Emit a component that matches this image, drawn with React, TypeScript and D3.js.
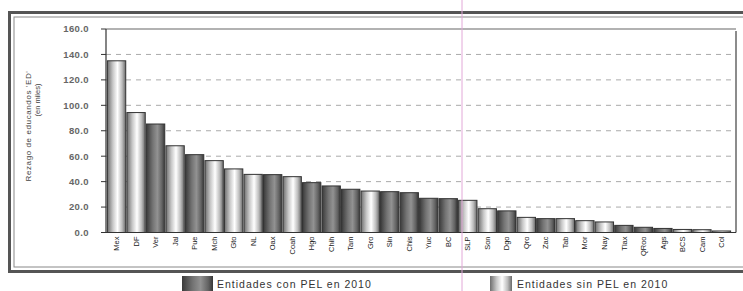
import React from "react";
import { scaleBand, scaleLinear, range } from "d3";

const width = 743;
const height = 291;

// states, left to right
const states = [
  "Mex", "DF", "Ver", "Jal", "Pue", "Mch", "Gto", "NL", "Oax", "Coah", "Hgo",
  "Chih", "Tam", "Gro", "Sin", "Chis", "Yuc", "BC", "SLP", "Son", "Dgo", "Qro",
  "Zac", "Tab", "Mor", "Nay", "Tlax", "QRoo", "Ags", "BCS", "Cam", "Col",
];

// rezago (en miles)
const values = [
  135.0, 94.3, 85.3, 68.2, 61.2, 56.5, 50.0, 45.7, 45.5, 43.9, 39.2,
  36.6, 34.0, 32.6, 32.1, 31.3, 26.9, 26.6, 25.3, 18.7, 17.0, 11.9,
  10.9, 10.9, 9.3, 8.3, 5.6, 4.1, 3.2, 2.4, 2.2, 1.2,
];

// true = con PEL en 2010 (dark), false = sin PEL (light)
const conPel = [
  false, false, true, false, true, false, false, false, true, false, true,
  true, true, false, true, true, true, true, false, false, true, false,
  true, false, false, false, true, true, true, false, false, false,
];

const yTicks = [0, 20, 40, 60, 80, 100, 120, 140, 160];
const legendLabels = ["Entidades con PEL en 2010", "Entidades sin PEL en 2010"];

const plot = { left: 106, right: 736, top: 29, bottom: 232.5 };

export default function App() {
  const x = scaleBand<string>()
    .domain(states)
    .range([plot.left + 1, plot.right - 5])
    .paddingInner(0.06)
    .paddingOuter(0.02);

  const y = scaleLinear().domain([0, 160]).range([plot.bottom, plot.top]);

  const font = "'Liberation Sans', Arial, sans-serif";

  return (
    <svg
      width={width}
      height={height}
      style={{ position: "absolute", left: 0, top: 0, background: "#fff" }}
    >
      <defs>
        <linearGradient id="light" x1="0" x2="1" y1="0" y2="0">
          <stop offset="0" stopColor="#6e6e6e" />
          <stop offset="0.3" stopColor="#c8c8c8" />
          <stop offset="0.55" stopColor="#ffffff" />
          <stop offset="0.8" stopColor="#bdbdbd" />
          <stop offset="1" stopColor="#6a6a6a" />
        </linearGradient>
        <linearGradient id="dark" x1="0" x2="1" y1="0" y2="0">
          <stop offset="0" stopColor="#3a3a3a" />
          <stop offset="0.35" stopColor="#747474" />
          <stop offset="0.6" stopColor="#929292" />
          <stop offset="0.85" stopColor="#626262" />
          <stop offset="1" stopColor="#363636" />
        </linearGradient>
      </defs>

      {/* outer double frame */}
      <rect x={9.5} y={12.5} width={760} height={259} fill="none" stroke="#555" strokeWidth={3} />
      <rect x={14} y={17} width={760} height={250} fill="none" stroke="#888" strokeWidth={1} />

      {/* plot box */}
      <line x1={plot.left} x2={plot.right} y1={y(160)} y2={y(160)} stroke="#666" strokeWidth={1.2} />
      <line x1={plot.right} x2={plot.right} y1={y(160) + 2} y2={plot.bottom} stroke="#666" strokeWidth={1.5} />

      {/* grid */}
      {yTicks.slice(1, -1).map((t) => (
        <line
          key={"g" + t}
          x1={plot.left}
          x2={plot.right - 3}
          y1={y(t)}
          y2={y(t)}
          stroke="#aaa"
          strokeWidth={1}
          strokeDasharray="5,5"
        />
      ))}

      {/* y axis */}
      <line x1={plot.left} x2={plot.left} y1={y(160)} y2={plot.bottom} stroke="#333" strokeWidth={1.2} />
      {yTicks.map((t) => (
        <g key={"t" + t} transform={`translate(0,${y(t)})`}>
          <line x1={plot.left - 5} x2={plot.left} stroke="#333" />
          <text
            x={plot.left - 17}
            dy="0.35em"
            textAnchor="end"
            fontFamily={font}
            fontSize={9.5}
            fontWeight="bold"
            fill="#666"
            letterSpacing={0.4}
          >
            {t.toFixed(1)}
          </text>
        </g>
      ))}

      {/* y title */}
      <text
        transform="translate(31,126) rotate(-90)"
        textAnchor="middle"
        fontFamily={font}
        fontSize={8}
        fill="#444"
        letterSpacing={0.6}
      >
        Rezago de educandos 'ED'
      </text>
      <text
        transform="translate(40,100) rotate(-90)"
        textAnchor="middle"
        fontFamily={font}
        fontSize={7.5}
        fill="#444"
      >
        (en miles)
      </text>

      {/* bars */}
      {range(states.length).map((i) => (
        <rect
          key={states[i]}
          x={x(states[i])}
          y={y(values[i])}
          width={x.bandwidth()}
          height={plot.bottom - y(values[i])}
          fill={conPel[i] ? "url(#dark)" : "url(#light)"}
          stroke="#333"
          strokeWidth={1}
        />
      ))}

      {/* baseline */}
      <line x1={plot.left} x2={plot.right} y1={plot.bottom} y2={plot.bottom} stroke="#333" strokeWidth={1.2} />

      {/* x labels */}
      {states.map((s) => (
        <text
          key={"l" + s}
          transform={`translate(${(x(s) as number) + x.bandwidth() / 2},${plot.bottom + 4}) rotate(-90)`}
          textAnchor="end"
          dy="0.35em"
          fontFamily={font}
          fontSize={7.5}
          fill="#222"
        >
          {s}
        </text>
      ))}

      {/* scan fold line */}
      <line x1={462} x2={462} y1={0} y2={height} stroke="#e2a8d8" strokeWidth={1} />

      {/* legend */}
      <rect x={182} y={276} width={31} height={18} fill="url(#dark)" />
      <text x={217} y={288} fontFamily={font} fontSize={10.5} fill="#333" letterSpacing={1}>
        {legendLabels[0]}
      </text>
      <rect x={490} y={276} width={22} height={18} fill="url(#light)" />
      <text x={517} y={288} fontFamily={font} fontSize={10.5} fill="#333" letterSpacing={1}>
        {legendLabels[1]}
      </text>
    </svg>
  );
}
